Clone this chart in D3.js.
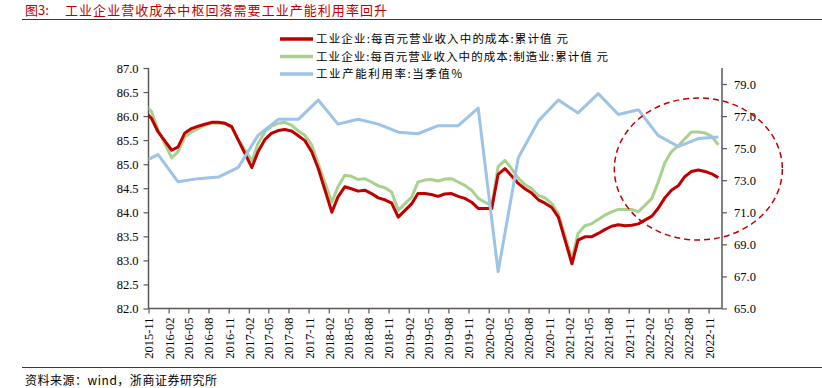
<!DOCTYPE html>
<html>
<head>
<meta charset="utf-8">
<script src="https://cdn.jsdelivr.net/npm/d3@7"></script>
<style>
    body { margin: 0; background: #fff; }
    svg { display: block; }
    .num { font-family: "Liberation Serif", "DejaVu Serif", serif; font-size: 12.5px; fill: #000; }
    .cjk { font-family: "Noto Sans CJK SC", sans-serif; }
</style>
</head>
<body>
<div id="chart"></div>
<script>
// months with cumulative cost data (January is not published)
const costMonths = [
    '2015-10', '2015-11', '2015-12',
    '2016-02', '2016-03', '2016-04', '2016-05', '2016-06', '2016-07', '2016-08', '2016-09', '2016-10', '2016-11', '2016-12',
    '2017-02', '2017-03', '2017-04', '2017-05', '2017-06', '2017-07', '2017-08', '2017-09', '2017-10', '2017-11', '2017-12',
    '2018-02', '2018-03', '2018-04', '2018-05', '2018-06', '2018-07', '2018-08', '2018-09', '2018-10', '2018-11', '2018-12',
    '2019-02', '2019-03', '2019-04', '2019-05', '2019-06', '2019-07', '2019-08', '2019-09', '2019-10', '2019-11', '2019-12',
    '2020-02', '2020-03', '2020-04', '2020-05', '2020-06', '2020-07', '2020-08', '2020-09', '2020-10', '2020-11', '2020-12',
    '2021-02', '2021-03', '2021-04', '2021-05', '2021-06', '2021-07', '2021-08', '2021-09', '2021-10', '2021-11', '2021-12',
    '2022-02', '2022-03', '2022-04', '2022-05', '2022-06', '2022-07', '2022-08', '2022-09', '2022-10', '2022-11', '2022-12'
];
const costAll = [
    86.10, 85.95, 85.67,
    85.29, 85.36, 85.65, 85.74, 85.79, 85.83, 85.87, 85.87, 85.85, 85.78, 85.50,
    84.93, 85.26, 85.51, 85.64, 85.70, 85.72, 85.69, 85.59, 85.49, 85.26, 84.91,
    84.00, 84.32, 84.53, 84.49, 84.44, 84.46, 84.39, 84.30, 84.26, 84.19, 83.90,
    84.18, 84.39, 84.39, 84.37, 84.33, 84.38, 84.39, 84.33, 84.29, 84.21, 84.08,
    84.08, 84.79, 84.91, 84.76, 84.60, 84.49, 84.40, 84.26, 84.19, 84.10, 83.90,
    82.93, 83.42, 83.49, 83.49, 83.56, 83.64, 83.71, 83.74, 83.72, 83.73, 83.76,
    83.92, 84.08, 84.30, 84.46, 84.55, 84.74, 84.85, 84.88, 84.85, 84.80, 84.72
];
const costMfg = [
    86.25, 86.09, 85.71,
    85.13, 85.26, 85.57, 85.67, 85.74, 85.81, 85.85, 85.85, 85.85, 85.76, 85.51,
    85.07, 85.43, 85.67, 85.79, 85.85, 85.87, 85.81, 85.69, 85.60, 85.40, 85.01,
    84.21, 84.53, 84.77, 84.75, 84.68, 84.70, 84.63, 84.55, 84.51, 84.42, 84.04,
    84.32, 84.63, 84.67, 84.68, 84.65, 84.69, 84.70, 84.63, 84.56, 84.46, 84.29,
    84.13, 84.95, 85.08, 84.91, 84.71, 84.58, 84.49, 84.35, 84.30, 84.18, 83.97,
    83.03, 83.56, 83.72, 83.76, 83.85, 83.94, 84.01, 84.06, 84.06, 84.06, 84.01,
    84.29, 84.62, 85.03, 85.26, 85.38, 85.53, 85.67, 85.67, 85.65, 85.58, 85.40
];

// capacity utilisation, quarterly
const utilMonths = [
    '2015-09', '2015-12',
    '2016-03', '2016-06', '2016-09', '2016-12',
    '2017-03', '2017-06', '2017-09', '2017-12',
    '2018-03', '2018-06', '2018-09', '2018-12',
    '2019-03', '2019-06', '2019-09', '2019-12',
    '2020-03', '2020-06', '2020-09', '2020-12',
    '2021-03', '2021-06', '2021-09', '2021-12',
    '2022-03', '2022-06', '2022-09', '2022-12'
];
const utilValues = [
    74.0, 74.6,
    72.9, 73.1, 73.2, 73.8,
    75.8, 76.8, 76.8, 78.0,
    76.5, 76.8, 76.5, 76.0,
    75.9, 76.4, 76.4, 77.5,
    67.3, 74.4, 76.7, 78.0,
    77.2, 78.4, 77.1, 77.4,
    75.8, 75.1, 75.6, 75.7
];

const tickLabels = [
    '2015-11', '2016-02', '2016-05', '2016-08', '2016-11', '2017-02', '2017-05', '2017-08',
    '2017-11', '2018-02', '2018-05', '2018-08', '2018-11', '2019-02', '2019-05', '2019-08',
    '2019-11', '2020-02', '2020-05', '2020-08', '2020-11', '2021-02', '2021-05', '2021-08',
    '2021-11', '2022-02', '2022-05', '2022-08', '2022-11'
];
const leftTicks = [82, 82.5, 83, 83.5, 84, 84.5, 85, 85.5, 86, 86.5, 87];
const rightTicks = [65, 67, 69, 71, 73, 75, 77, 79];

const seriesNames = [
    '工业企业:每百元营业收入中的成本:累计值 元',
    '工业企业:每百元营业收入中的成本:制造业:累计值 元',
    '工业产能利用率:当季值%'
];
const colors = ['#c00000', '#a9d18e', '#9dc3e6'];

const W = 822, H = 388;
const plot = {left: 148.5, right: 722, top: 68, bottom: 308.5};

const parseMonth = d3.timeParse('%Y-%m');
// points sit mid-month, ticks on the first of the month
const mid = s => d3.timeDay.offset(parseMonth(s), 14);

var svg = d3.select('#chart').append('svg')
    .attr('width', W).attr('height', H);

var x = d3.scaleTime()
    .domain([parseMonth('2015-11'), parseMonth('2023-01')])
    .range([plot.left, plot.right]);
var yL = d3.scaleLinear().domain([82, 87]).range([plot.bottom, plot.top]);
var yR = d3.scaleLinear().domain([65, 80]).range([plot.bottom, plot.top]);

// title + rules
svg.append('text').attr('class', 'cjk')
    .attr('x', 25).attr('y', 15)
    .attr('font-size', 13).attr('fill', '#c00000')
    .text('图3:');
svg.append('text').attr('class', 'cjk')
    .attr('x', 65).attr('y', 15)
    .attr('font-size', 13).attr('fill', '#c00000')
    .attr('textLength', 322).attr('lengthAdjust', 'spacing')
    .text('工业企业营收成本中枢回落需要工业产能利用率回升');
svg.append('line')
    .attr('x1', 22).attr('x2', W).attr('y1', 19.5).attr('y2', 19.5)
    .attr('stroke', '#c00000').attr('stroke-width', 1);
svg.append('line')
    .attr('x1', 22).attr('x2', W).attr('y1', 367.5).attr('y2', 367.5)
    .attr('stroke', '#c00000').attr('stroke-width', 1);
svg.append('text').attr('class', 'cjk')
    .attr('x', 25).attr('y', 385)
    .attr('font-size', 12).attr('fill', '#000')
    .attr('textLength', 192).attr('lengthAdjust', 'spacing')
    .text('资料来源：wind，浙商证券研究所');

// axes
var axisColor = '#595959';

var gl = svg.append('g').attr('transform', `translate(${plot.left},0)`)
    .call(d3.axisLeft(yL).tickValues(leftTicks).tickFormat(d3.format('.1f')).tickSize(5).tickPadding(5));
var gr = svg.append('g').attr('transform', `translate(${plot.right},0)`)
    .call(d3.axisRight(yR).tickValues(rightTicks).tickFormat(d3.format('.1f')).tickSize(5).tickPadding(7));
var gx = svg.append('g').attr('transform', `translate(0,${plot.bottom})`)
    .call(d3.axisBottom(x).tickValues(tickLabels.map(parseMonth)).tickFormat(d3.timeFormat('%Y-%m')).tickSize(5));

[gl, gr, gx].forEach(g => {
    g.select('.domain').attr('stroke', axisColor).attr('stroke-width', 1.5);
    g.selectAll('.tick line').attr('stroke', axisColor).attr('stroke-width', 1.2);
    g.selectAll('.tick text').attr('class', 'num').attr('font-family', null).attr('font-size', null);
});
gl.select('.domain').attr('d', `M0,${plot.top}V${plot.bottom}`);
gr.select('.domain').attr('d', `M0,${plot.top}V${plot.bottom}`);
gx.select('.domain').attr('d', `M0,0H${plot.right - plot.left}`).attr('transform', `translate(${plot.left},0)`);
gx.selectAll('.tick text')
    .attr('transform', 'rotate(-90)')
    .attr('text-anchor', 'end')
    .attr('x', -9).attr('y', 0).attr('dy', '0.35em');

// series
var clipId = 'plot-clip';
svg.append('clipPath').attr('id', clipId)
    .append('rect')
    .attr('x', plot.left).attr('y', plot.top - 20)
    .attr('width', plot.right - plot.left).attr('height', plot.bottom - plot.top + 20);

var lines = svg.append('g').attr('clip-path', `url(#${clipId})`)
    .attr('fill', 'none').attr('stroke-width', 3).attr('stroke-linejoin', 'round');

var lineL = d3.line().x(d => x(d[0])).y(d => yL(d[1]));
var lineR = d3.line().x(d => x(d[0])).y(d => yR(d[1]));

lines.append('path')
    .datum(costMonths.map((m, i) => [mid(m), costMfg[i]]))
    .attr('stroke', colors[1]).attr('d', lineL);
lines.append('path')
    .datum(costMonths.map((m, i) => [mid(m), costAll[i]]))
    .attr('stroke', colors[0]).attr('d', lineL);
lines.append('path')
    .datum(utilMonths.map((m, i) => [mid(m), utilValues[i]]))
    .attr('stroke', colors[2]).attr('d', lineR);

// highlight ellipse
svg.append('ellipse')
    .attr('cx', x(mid('2022-09'))).attr('cy', yR(73.7))
    .attr('rx', 84).attr('ry', 71)
    .attr('fill', 'none').attr('stroke', '#c00000')
    .attr('stroke-width', 1.5).attr('stroke-dasharray', '6,4');

// legend
var legendW = [252, 292, 146];
var lg = svg.append('g').attr('transform', 'translate(280,39)');
var item = lg.selectAll('g').data(seriesNames).enter().append('g')
    .attr('transform', (d, i) => `translate(0,${i * 17.5})`);
item.append('line')
    .attr('x1', 0).attr('x2', 33)
    .attr('stroke', (d, i) => colors[i]).attr('stroke-width', 3.5);
item.append('text').attr('class', 'cjk')
    .attr('x', 36).attr('dy', '0.35em')
    .attr('font-size', 11.5).attr('fill', '#000')
    .attr('textLength', (d, i) => legendW[i]).attr('lengthAdjust', 'spacing')
    .text(d => d);
</script>
</body>
</html>
